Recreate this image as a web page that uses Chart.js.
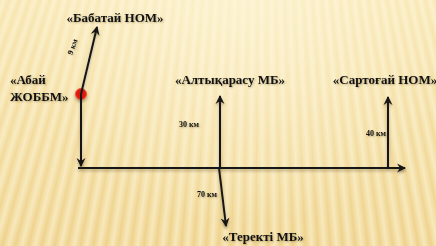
<!DOCTYPE html>
<html>
<head>
<meta charset="utf-8">
<script src="https://cdn.jsdelivr.net/npm/chart.js@4"></script>
<style>
html, body { margin: 0; padding: 0; }
body { width: 436px; height: 246px; overflow: hidden; }
#wrap {
  position: relative; width: 436px; height: 246px;
  background:
    radial-gradient(ellipse at 55% 0%, rgba(255,248,222,0.6), rgba(255,248,222,0) 65%),
    repeating-conic-gradient(from 180deg at 262px -700px,
      rgba(255,249,225,0.55) 0deg, rgba(255,249,225,0) 0.37deg, rgba(255,249,225,0.55) 0.75deg),
    linear-gradient(#f8e6b2, #eed28c);
}
</style>
</head>
<body>
<div id="wrap"><canvas id="map" width="436" height="246"></canvas></div>
<script>
// map units (same size as the picture, y counted from the top)
const segFromX = [78, 81, 81, 220, 219, 388];
const segFromY = [168, 94, 94, 168, 168, 168];
const segToX = [405, 97, 81, 220, 226, 388];
const segToY = [168, 27, 166, 96, 226, 97];

const startX = [81];
const startY = [94];

const placeNames = ['«Бабатай НОМ»', '«Абай', 'ЖОББМ»', '«Алтықарасу МБ»', '«Сартоғай НОМ»', '«Теректі МБ»'];
const placeX = [115, 10, 10, 230, 385, 263];
const placeY = [19, 81, 98, 81, 81, 238];
const placeAlign = ['center', 'left', 'left', 'center', 'center', 'center'];

const distances = [9, 30, 70, 40];
const distX = [73, 189, 207, 376];
const distY = [47, 125, 195, 134];
const distAngle = [-70, 0, 0, 0];

const ink = '#161616';

const datasets = segFromX.map((x, i) => ({
  data: [{ x: x, y: segFromY[i] }, { x: segToX[i], y: segToY[i] }],
  showLine: true,
  borderColor: ink,
  borderWidth: 2,
  pointRadius: 0,
  arrow: true
}));

datasets.push({
  data: startX.map((x, i) => ({ x: x, y: startY[i] })),
  pointRadius: 5.5,
  pointBackgroundColor: '#ee1a10',
  pointBorderColor: '#f5503c',
  pointBorderWidth: 1
});

const shadowPlugin = {
  id: 'shadow',
  beforeDatasetsDraw(chart) {
    const ctx = chart.ctx;
    ctx.save();
    ctx.shadowColor = 'rgba(60,40,0,0.35)';
    ctx.shadowBlur = 3;
    ctx.shadowOffsetY = 2;
  },
  afterDatasetsDraw(chart) {
    const ctx = chart.ctx;
    chart.data.datasets.forEach((ds, i) => {
      if (!ds.arrow) return;
      const pts = chart.getDatasetMeta(i).data;
      const a = pts[pts.length - 2], b = pts[pts.length - 1];
      const ang = Math.atan2(b.y - a.y, b.x - a.x);
      ctx.save();
      ctx.translate(b.x, b.y);
      ctx.rotate(ang);
      ctx.fillStyle = ink;
      ctx.beginPath();
      ctx.moveTo(1, 0);
      ctx.lineTo(-8, -4.5);
      ctx.lineTo(-5, 0);
      ctx.lineTo(-8, 4.5);
      ctx.closePath();
      ctx.fill();
      ctx.restore();
    });
    ctx.restore();
  }
};

const labelPlugin = {
  id: 'labels',
  afterDraw(chart) {
    const ctx = chart.ctx;
    const sx = chart.scales.x, sy = chart.scales.y;
    ctx.save();
    ctx.fillStyle = '#111';
    ctx.textBaseline = 'middle';
    ctx.shadowColor = 'rgba(80,60,0,0.35)';
    ctx.shadowBlur = 2;
    ctx.shadowOffsetX = 1;
    ctx.shadowOffsetY = 1;
    ctx.font = 'bold 13px "Liberation Serif", "Times New Roman", serif';
    placeNames.forEach((t, i) => {
      ctx.textAlign = placeAlign[i];
      ctx.fillText(t, sx.getPixelForValue(placeX[i]), sy.getPixelForValue(placeY[i]));
    });
    ctx.font = 'bold 8px "Liberation Serif", "Times New Roman", serif';
    ctx.textAlign = 'center';
    distances.forEach((d, i) => {
      ctx.save();
      ctx.translate(sx.getPixelForValue(distX[i]), sy.getPixelForValue(distY[i]));
      ctx.rotate(distAngle[i] * Math.PI / 180);
      ctx.fillText(d + ' км', 0, 0);
      ctx.restore();
    });
    ctx.restore();
  }
};

new Chart(document.getElementById('map'), {
  type: 'scatter',
  data: { datasets: datasets },
  options: {
    responsive: false,
    animation: false,
    layout: { padding: 0, autoPadding: false },
    scales: {
      x: { type: 'linear', min: 0, max: 436, display: false },
      y: { type: 'linear', min: 0, max: 246, reverse: true, display: false }
    },
    plugins: { legend: { display: false }, tooltip: { enabled: false } }
  },
  plugins: [shadowPlugin, labelPlugin]
});
</script>
</body>
</html>
